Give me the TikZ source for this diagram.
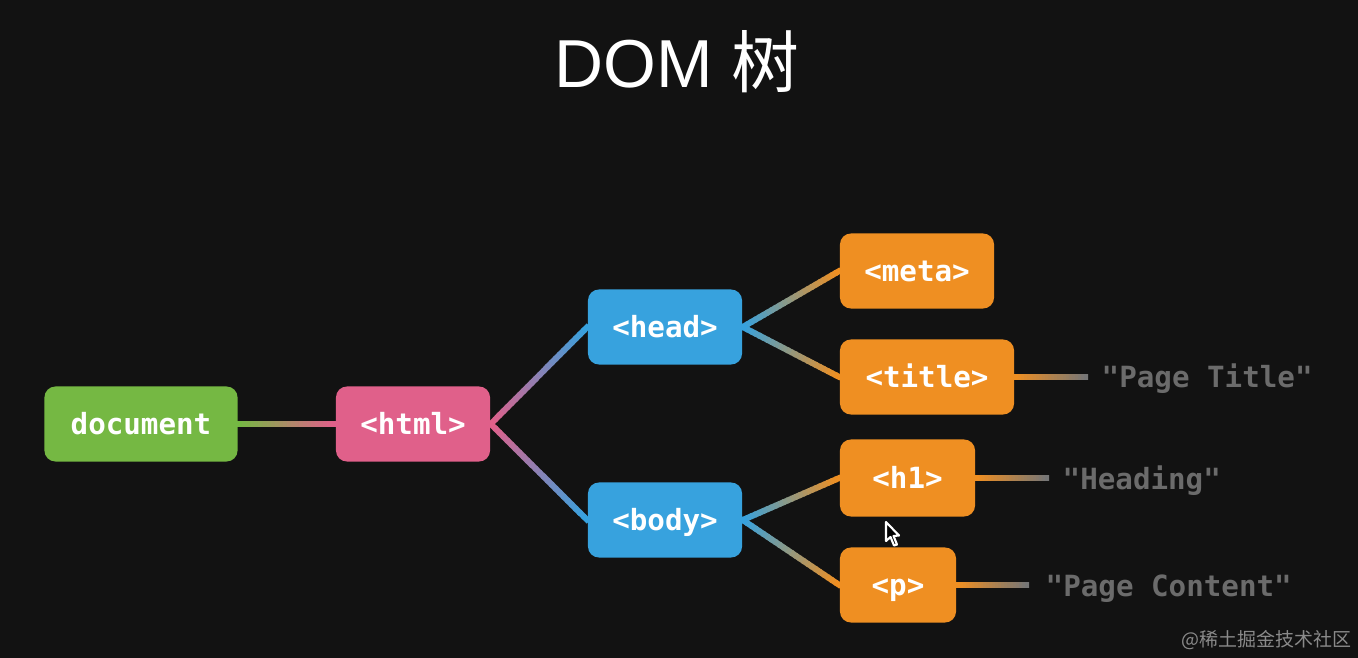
\documentclass[tikz,border=0pt]{standalone}
\usepackage{fontspec}
\setmainfont{Liberation Sans}
\newfontfamily\codefont{DejaVu Sans Mono}
\newfontfamily\cjk{Noto Sans CJK SC}
\usetikzlibrary{calc}
\pgfdeclarelayer{bgl}
\pgfdeclarelayer{edges}
\pgfsetlayers{bgl,edges,main}
\definecolor{bgc}{HTML}{121212}
\definecolor{cgreen}{HTML}{75B843}
\definecolor{cpink}{HTML}{E0608A}
\definecolor{cblue}{HTML}{37A2DE}
\definecolor{corange}{HTML}{EF8F22}
\definecolor{cgray}{HTML}{6B6B6B}
\definecolor{cline}{HTML}{767676}
\definecolor{cwm}{HTML}{8A8A8A}
\newcommand\gradseg[4]{%
  \foreach \k in {0,...,23}{%
    \pgfmathsetmacro\pa{(\k==0 ? -0.4 : \k)/24}%
    \pgfmathsetmacro\pb{(\k==23 ? 24.4 : \k+1.35)/24}%
    \pgfmathtruncatemacro\pc{100-100*\k/23}%
    \draw[edgeline, draw=#3!\pc!#4] ($(#1)!\pa!(#2)$) -- ($(#1)!\pb!(#2)$);
  }}
\begin{document}
\begin{tikzpicture}[x=0.01cm,y=-0.01cm,
  edgeline/.style={line width=1.7pt, line cap=butt},
  box/.style={rounded corners=0.11cm, minimum height=0.75cm, inner sep=0pt,
    text=white, font=\codefont\bfseries\fontsize{8.3}{10}\selectfont,
    text height=6.2pt, text depth=0.4pt},
  leaf/.style={anchor=west, inner sep=0pt, text=cgray,
    font=\codefont\bfseries\fontsize{8.3}{10}\selectfont}]
\useasboundingbox (0,0) rectangle (1358,658);
\begin{pgfonlayer}{bgl}
  \fill[bgc] (0,0) rectangle (1358,658);
\end{pgfonlayer}
% title
\node[anchor=base, text=white, font=\fontsize{19.3}{22}\selectfont, inner sep=0pt] (ttl) at (677,88) {DOM {\cjk 树}};
% nodes
\node[box, fill=cgreen, minimum width=1.93cm] (doc) at (141,424) {document};
\node[box, fill=cpink, minimum width=1.54cm] (html) at (413,424) {<html>};
\node[box, fill=cblue, minimum width=1.54cm] (head) at (665,327) {<head>};
\node[box, fill=cblue, minimum width=1.54cm] (body) at (665,520) {<body>};
\node[box, fill=corange, minimum width=1.54cm] (meta) at (917,271) {<meta>};
\node[box, fill=corange, minimum width=1.74cm] (title) at (927,377) {<title>};
\node[box, fill=corange, minimum width=1.35cm, minimum height=0.77cm] (h1) at (907.5,478) {<h1>};
\node[box, fill=corange, minimum width=1.16cm] (p) at (898,585) {<p>};
% text leaves
\coordinate (tEnd) at (1087,377);
\coordinate (hEnd) at (1048,478);
\coordinate (pEnd) at (1028,585);
\node[leaf] (tTxt) at (1101,379) {"Page Title"};
\node[leaf] (hTxt) at (1062,481) {"Heading"};
\node[leaf] (pTxt) at (1045,589) {"Page Content"};
% connectors
\begin{pgfonlayer}{edges}
  \gradseg{doc.east}{html.west}{cgreen}{cpink}
  \gradseg{html.east}{head.west}{cpink}{cblue}
  \gradseg{html.east}{body.west}{cpink}{cblue}
  \gradseg{head.east}{meta.west}{cblue}{corange}
  \gradseg{head.east}{title.west}{cblue}{corange}
  \gradseg{body.east}{h1.west}{cblue}{corange}
  \gradseg{body.east}{p.west}{cblue}{corange}
  \gradseg{title.east}{tEnd}{corange}{cline}
  \gradseg{h1.east}{hEnd}{corange}{cline}
  \gradseg{p.east}{pEnd}{corange}{cline}
\end{pgfonlayer}
% mouse cursor
\draw[white, fill=black, line width=0.6pt, line join=round] (886,522) -- (886,541) -- (890.5,537) -- (894,545.5) -- (897,544.5) -- (893.5,536) -- (899,535.5) -- cycle;
% watermark
\node[anchor=east, inner sep=0pt, text=cwm, font=\cjk\fontsize{5.4}{7}\selectfont] (wm) at (1352,640) {@稀土掘金技术社区};
\end{tikzpicture}
\end{document}
